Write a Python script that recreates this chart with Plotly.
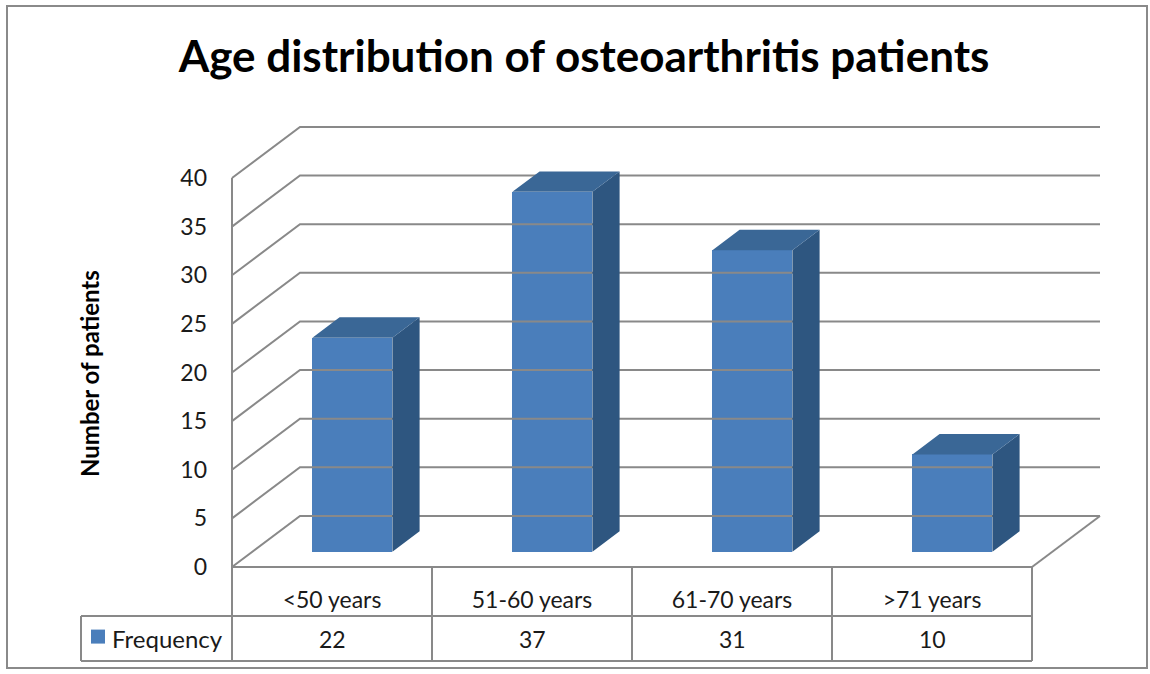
import plotly.graph_objects as go

# ---------------- data ----------------
categories = ["<50 years", "51-60 years", "61-70 years", ">71 years"]
frequency = [22, 37, 31, 10]
y_ticks = [0, 5, 10, 15, 20, 25, 30, 35, 40]
series_name = "Frequency"
title_text = "Age distribution of osteoarthritis patients"
y_title = "Number of patients"

# ---------------- styling / geometry ----------------
W, H = 1150, 674
PX0, PX1 = 70, 1110          # plot-area pixel extent (x)
PY0, PY1 = 110, 670          # plot-area pixel extent (y)
X_RANGE = [-1.31, 3.89]      # category units
Y_RANGE = [-10.59, 46.99]    # value units
DX, DY = 0.34, 5.25          # full depth offset of the 3-D box (data units)
D0, D1 = 0.3, 0.7            # depth span occupied by the bars
BAR_W = 0.4
FRONT, TOP, SIDE = "#4a7ebb", "#3a6796", "#2e5680"
GRID = "#898989"
FONT = "Lato"
TXT = "#1a1a1a"

n = len(categories)
x_left, x_right = -0.5, n - 0.5
ymax = max(y_ticks)

# table geometry (value units below zero)
ROW1 = -5.04
ROW2 = -9.67
LEG_X = -1.255
ROW2_MID = (ROW1 + ROW2) / 2

fig = go.Figure()

# back wall + left wall gridlines
gx, gy = [], []
for v in y_ticks:
    gx += [x_left, x_left + DX, x_right + DX, None]
    gy += [v, v + DY, v + DY, None]
# floor right edge
gx += [x_right, x_right + DX, None]
gy += [0, DY, None]
# front vertical axis
gx += [x_left, x_left, None]
gy += [0, ymax, None]
fig.add_trace(go.Scatter(x=gx, y=gy, mode="lines", line=dict(color=GRID, width=2),
                         hoverinfo="skip", showlegend=False))

# data table lines
tx, ty = [], []
tx += [x_left, x_right, None]; ty += [0, 0, None]
tx += [LEG_X, x_right, None]; ty += [ROW1, ROW1, None]
tx += [LEG_X, x_right, None]; ty += [ROW2, ROW2, None]
for k in range(n + 1):
    tx += [x_left + k, x_left + k, None]; ty += [0, ROW2, None]
tx += [LEG_X, LEG_X, None]; ty += [ROW1, ROW2, None]
fig.add_trace(go.Scatter(x=tx, y=ty, mode="lines", line=dict(color=GRID, width=2),
                         hoverinfo="skip", showlegend=False))

# bars: side + top faces as polygons, front faces as bar trace
base = D0 * DY
ddx, ddy = (D1 - D0) * DX, (D1 - D0) * DY
sx, sy, tpx, tpy = [], [], [], []
for i, v in enumerate(frequency):
    xc = i + D0 * DX
    xl, xr = xc - BAR_W / 2, xc + BAR_W / 2
    sx += [xr, xr, xr + ddx, xr + ddx, xr, None]
    sy += [base, base + v, base + v + ddy, base + ddy, base, None]
    tpx += [xl, xl + ddx, xr + ddx, xr, xl, None]
    tpy += [base + v, base + v + ddy, base + v + ddy, base + v, base + v, None]
fig.add_trace(go.Scatter(x=sx, y=sy, mode="lines", fill="toself", fillcolor=SIDE,
                         line=dict(width=0, color=SIDE), hoverinfo="skip", showlegend=False))
fig.add_trace(go.Scatter(x=tpx, y=tpy, mode="lines", fill="toself", fillcolor=TOP,
                         line=dict(width=0, color=TOP), hoverinfo="skip", showlegend=False))
fig.add_trace(go.Bar(x=[i + D0 * DX for i in range(n)], y=frequency, base=base,
                     width=BAR_W, marker=dict(color=FRONT, line=dict(width=0)),
                     name=series_name, showlegend=False))

# legend key in table
fig.add_trace(go.Scatter(x=[LEG_X + 0.085], y=[ROW2_MID + 0.2], mode="markers",
                         marker=dict(symbol="square", size=14, color=FRONT),
                         hoverinfo="skip", showlegend=False))

annotations = [
    dict(x=LEG_X + 0.145, y=ROW2_MID, xref="x", yref="y", text=series_name,
         showarrow=False, xanchor="left", yanchor="middle",
         font=dict(family=FONT, size=24, color=TXT)),
]
for i, v in enumerate(frequency):
    annotations.append(dict(x=i, y=ROW2_MID, xref="x", yref="y", text=str(v),
                            showarrow=False, xanchor="center", yanchor="middle",
                            font=dict(family=FONT, size=23, color=TXT)))
annotations.append(dict(x=(89 - PX0) / (PX1 - PX0), y=(PY1 - 374) / (PY1 - PY0),
                        xref="paper", yref="paper", text="<b>" + y_title + "</b>",
                        textangle=-90, showarrow=False, xanchor="center", yanchor="middle",
                        font=dict(family=FONT, size=24, color="#000000")))

def px_x(p):
    return (p - PX0) / (PX1 - PX0)

def px_y(p):
    return (PY1 - p) / (PY1 - PY0)

shapes = [dict(type="rect", xref="paper", yref="paper",
               x0=px_x(7), x1=px_x(1147), y0=px_y(668), y1=px_y(6),
               line=dict(color="#8a8a8a", width=2), fillcolor="rgba(0,0,0,0)", layer="below")]

fig.update_layout(
    width=W, height=H,
    margin=dict(l=PX0, r=W - PX1, t=PY0, b=H - PY1, pad=0),
    paper_bgcolor="white", plot_bgcolor="white",
    title=dict(text="<b>" + title_text + "</b>", x=584 / W, xanchor="center",
               y=1 - 57 / H, yanchor="middle", yref="container",
               font=dict(family=FONT, size=44, color="#000000")),
    xaxis=dict(range=X_RANGE, anchor="free", position=(PY1 - 567) / (PY1 - PY0),
               tickmode="array", tickvals=list(range(n)), ticktext=categories,
               showgrid=False, zeroline=False, showline=False, ticks="",
               ticklabelstandoff=17,
               tickfont=dict(family=FONT, size=23, color=TXT), fixedrange=True),
    yaxis=dict(range=Y_RANGE, anchor="free", position=(232 - PX0) / (PX1 - PX0),
               tickmode="array", tickvals=y_ticks,
               showgrid=False, zeroline=False, showline=False, ticks="",
               ticklabelstandoff=25,
               tickfont=dict(family=FONT, size=23, color=TXT), fixedrange=True),
    annotations=annotations, shapes=shapes,
    bargap=0, showlegend=False,
)

fig.write_html("out.html", post_script="document.body.style.margin='0';",
               config={"displayModeBar": False, "staticPlot": False})
